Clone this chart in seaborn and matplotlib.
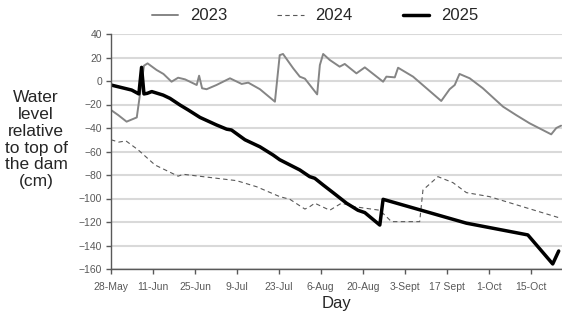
import matplotlib
matplotlib.use("Agg")
import matplotlib.pyplot as plt
import seaborn as sns
import pandas as pd

# Days since 28-May
days_2023 = [0, 2.4, 5.2, 8.6, 11.0, 12.2, 15.2, 17.5, 20.2, 22.4, 24.7, 28.6, 29.4, 30.4, 31.9,
             35.2, 39.7, 43.6, 45.8, 49.7, 54.7, 56.3, 57.4, 60.8, 63.0, 64.7, 68.8, 69.7, 70.8,
             73.0, 76.3, 78.0, 81.9, 84.7, 90.8, 91.9, 94.7, 95.8, 100.8, 110.2, 113.0, 114.7,
             116.3, 119.7, 124.1, 130.8, 135.2, 139.7, 146.9, 148.6, 150.2]
level_2023 = [-24.7, -29, -34.6, -31, 13, 15, 9.4, 6, -0.6, 2.8, 1.4, -3.4, 4.5, -6.2, -7,
              -3.4, 2.3, -2.5, -1.4, -7, -17.6, 22, 23, 10.8, 3.7, 2, -11.4, 13.6, 23,
              17.9, 12.2, 14.5, 6.5, 11.6, -0.6, 3.7, 3.1, 11.3, 3.7, -17, -7, -3.4,
              6, 2.3, -6.2, -21.8, -29, -36, -45.4, -40, -38]

days_2024 = [0, 2.6, 5.0, 9.1, 14.7, 22.4, 24.1, 41.9, 48.6, 56.3, 59.7, 64.7, 66.3, 68.0, 73.0,
             76.9, 81.3, 89.7, 93.6, 103.0, 104.1, 109.1, 114.1, 118.6, 126.3, 150.2]
level_2024 = [-50, -52, -51, -58.7, -71.5, -81, -79.4, -84.8, -90, -98.4, -100.7, -109, -107, -104, -110,
              -104, -107, -110, -119.7, -119.7, -92.8, -81.4, -86.5, -95, -98.4, -116.9]

days_2025 = [0, 6.9, 9.3, 10.2, 11.0, 12.1, 13.6, 17.4, 19.7, 23.0, 25.8, 29.7, 35.2, 38.6, 40.2,
             44.7, 49.7, 54.1, 56.3, 63.0, 66.3, 68.0, 70.8, 74.1, 78.6, 82.4, 84.7, 89.7, 90.8,
             118.6, 139.1, 147.4, 149.4]
level_2025 = [-3.4, -7.7, -11, 11.6, -11, -10.5, -9, -12, -14.8, -20.4, -24.7, -31, -37.4, -41, -41.7,
              -50, -56, -63, -67, -75.7, -81.4, -82.8, -88.5, -95, -104, -110, -112, -122.6, -100.7,
              -121, -131, -155.7, -144.7]

tick_days = [0, 14, 28, 42, 56, 70, 84, 98, 112, 126, 140]
tick_labels = ["28-May", "11-Jun", "25-Jun", "9-Jul", "23-Jul", "6-Aug", "20-Aug",
               "3-Sept", "17 Sept", "1-Oct", "15-Oct"]
y_ticks = list(range(-160, 41, 20))

sns.set_theme(style="white")
plt.rcParams["font.family"] = ["Liberation Sans", "DejaVu Sans"]

fig = plt.figure(figsize=(5.62, 3.16), dpi=100)
ax = fig.add_axes([111 / 562, 1 - 269 / 316, 451 / 562, 235 / 316])

df23 = pd.DataFrame({"day": days_2023, "level": level_2023})
df24 = pd.DataFrame({"day": days_2024, "level": level_2024})
df25 = pd.DataFrame({"day": days_2025, "level": level_2025})

sns.lineplot(data=df23, x="day", y="level", ax=ax, color="#858585", linewidth=1.4,
             label="2023", sort=False, estimator=None)
sns.lineplot(data=df24, x="day", y="level", ax=ax, color="#595959", linewidth=0.8,
             linestyle=(0, (4, 3)), label="2024", sort=False, estimator=None)
sns.lineplot(data=df25, x="day", y="level", ax=ax, color="black", linewidth=2.5,
             label="2025", sort=False, estimator=None)

ax.set_xlim(0, 150.5)
ax.set_ylim(-160, 40)
ax.set_yticks(y_ticks)
ax.set_xticks(tick_days)
ax.set_xticklabels(tick_labels)
ax.yaxis.grid(True, color="#d9d9d9", linewidth=1.5)
ax.xaxis.grid(False)
ax.set_axisbelow(True)

for s in ["top", "right"]:
    ax.spines[s].set_visible(False)
for s in ["left", "bottom"]:
    ax.spines[s].set_color("#595959")
    ax.spines[s].set_linewidth(1.0)

ax.tick_params(axis="both", which="major", direction="out", length=3.5, width=1,
               color="#595959", labelsize=7.5, labelcolor="#595959", left=True, bottom=True)
ax.tick_params(axis="x", pad=6)
ax.tick_params(axis="y", pad=3)

ax.set_xlabel("Day", fontsize=12, color="#262626", labelpad=3)
ax.set_ylabel("Water\nlevel\nrelative\nto top of\nthe dam\n(cm)", fontsize=12.5, color="#262626",
              rotation=0, ha="center", va="center", multialignment="center", linespacing=1.15)
ax.yaxis.set_label_coords(-0.166, 0.55)

handles, labels = ax.get_legend_handles_labels()
ax.get_legend().remove()
fig.legend(handles, labels, loc="center", bbox_to_anchor=(315 / 562, 1 - 16 / 316), ncol=3,
           frameon=False, fontsize=12, handlelength=1.6, handletextpad=0.7, columnspacing=3.0,
           labelcolor="#262626")

fig.savefig("out.png", dpi=100)
